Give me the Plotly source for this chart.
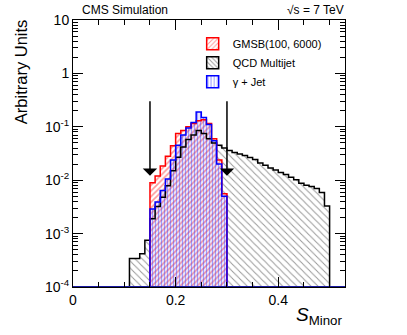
import numpy as np
import plotly.graph_objects as go

# --- Data (bin contents, bin width 0.01) ---
bin_width = 0.01
x_max = 0.53

qcd_start = 0.11
qcd = [3.4e-4, 3.4e-4, 4.2e-4, 7.5e-4,
       1.9e-3, 3.2e-3, 4.8e-3, 7.9e-3, 1.5e-2,
       2.7e-2, 4.2e-2, 5.8e-2, 7.0e-2, 8.5e-2,
       7.5e-2, 6.0e-2, 5.0e-2, 4.5e-2, 4.0e-2,
       3.6e-2, 3.3e-2, 3.1e-2, 2.9e-2, 2.65e-2, 2.45e-2, 2.1e-2, 1.9e-2, 1.7e-2, 1.55e-2,
       1.4e-2, 1.28e-2, 1.14e-2, 1.02e-2, 8.8e-3, 8.0e-3, 7.6e-3, 7.0e-3, 5.9e-3, 3.3e-3]

sig_start = 0.15
gmsb = [9.0e-3, 1.2e-2, 1.85e-2, 2.8e-2, 4.4e-2, 7.5e-2, 8.5e-2, 1.0e-1,
        1.15e-1, 1.3e-1, 1.35e-1, 1.15e-1, 6.0e-2, 2.4e-2, 5.6e-3]
gjet = [2.9e-3, 3.9e-3, 6.4e-3, 1.05e-2, 2.4e-2, 4.5e-2, 7.0e-2, 9.5e-2,
        1.2e-1, 1.9e-1, 1.5e-1, 1.1e-1, 5.5e-2, 2.0e-2, 5.0e-3]

cuts = [0.15, 0.30]

y_min, y_max = 1e-4, 10.0
FONT = "Liberation Sans, Arial, sans-serif"


def centers(start, vals):
    return start + bin_width * (np.arange(len(vals)) + 0.5)


def step_outline(start, vals):
    edges = start + bin_width * np.arange(len(vals) + 1)
    xs = [edges[0]] + list(edges) + [edges[-1]]
    ys = [y_min] + list(vals) + [vals[-1], y_min]
    return xs, ys


fig = go.Figure()

# --- filled histograms ---
fig.add_trace(go.Bar(x=centers(qcd_start, qcd), y=qcd, width=bin_width, showlegend=False,
                     marker=dict(color="white", line=dict(width=0),
                                 pattern=dict(shape="\\", fgcolor="#333333", size=5, solidity=0.2))))
fig.add_trace(go.Bar(x=centers(sig_start, gmsb), y=gmsb, width=bin_width, showlegend=False,
                     marker=dict(color="white", line=dict(width=0),
                                 pattern=dict(shape="/", fgcolor="#ff3030", size=4, solidity=0.4))))
fig.add_trace(go.Bar(x=centers(sig_start, gjet), y=gjet, width=bin_width, showlegend=False,
                     marker=dict(color="rgba(0,0,0,0)", line=dict(width=0),
                                 pattern=dict(shape="|", fgcolor="#4040ff", size=3, solidity=0.5))))

# --- outlines ---
for start, vals, col in [(qcd_start, qcd, "black"), (sig_start, gmsb, "red"), (sig_start, gjet, "blue")]:
    xs, ys = step_outline(start, vals)
    fig.add_trace(go.Scatter(x=xs, y=ys, mode="lines", line=dict(color=col, width=1.5, shape="hv"),
                             showlegend=False, hoverinfo="skip"))

# baseline along the bottom
fig.add_trace(go.Scatter(x=[0, x_max], y=[y_min, y_min], mode="lines", cliponaxis=False,
                         line=dict(color="#1a1aa0", width=2), showlegend=False, hoverinfo="skip"))

# --- legend entries ---
for name, col, shape, fg in [("GMSB(100, 6000)", "red", "/", "#ff3030"),
                             ("QCD Multijet", "black", "\\", "#333333"),
                             ("\u03b3 + Jet", "blue", "|", "#3030ff")]:
    fig.add_trace(go.Bar(x=[None], y=[None], name=name,
                         marker=dict(color="white", line=dict(color=col, width=1.5),
                                     pattern=dict(shape=shape, fgcolor=fg, size=4, solidity=0.3))))

# --- cut arrows ---
for c in cuts:
    fig.add_annotation(x=c, y=np.log10(0.0121), ax=c, ay=np.log10(0.32), xref="x", yref="y",
                       axref="x", ayref="y", text="", showarrow=True, arrowhead=1,
                       arrowsize=1.6, arrowwidth=1.5, arrowcolor="black")

# --- texts ---
fig.add_annotation(x=0.026, y=1.005, xref="paper", yref="paper", text="CMS Simulation",
                   showarrow=False, xanchor="left", yanchor="bottom", font=dict(size=12))
fig.add_annotation(x=1.005, y=1.005, xref="paper", yref="paper", text="\u221as = 7 TeV",
                   showarrow=False, xanchor="right", yanchor="bottom", font=dict(size=12))
fig.add_annotation(x=1.0, y=-0.108, xref="paper", yref="paper",
                   text="<i>S</i><sub>Minor</sub>", showarrow=False, xanchor="right",
                   yanchor="middle", font=dict(size=19))
fig.add_annotation(x=-0.19, y=1.01, xref="paper", yref="paper", text="Arbitrary Units",
                   textangle=-90, showarrow=False, xanchor="center", yanchor="top",
                   font=dict(size=16.5))

ytickvals = [1e-4, 1e-3, 1e-2, 1e-1, 1, 10]
yticktext = ["10<sup>-4</sup>", "10<sup>-3</sup>", "10<sup>-2</sup>", "10<sup>-1</sup>", "1", "10"]

fig.update_layout(
    width=407, height=335,
    margin=dict(l=73, r=62, t=18, b=48),
    paper_bgcolor="white", plot_bgcolor="white",
    barmode="overlay", bargap=0,
    font=dict(family=FONT, size=14, color="black"),
    xaxis=dict(range=[0, x_max], tickvals=[0, 0.2, 0.4], ticktext=["0", "0.2", "0.4"],
               ticks="inside", ticklen=10, tickcolor="black", showgrid=False, zeroline=False,
               showline=True, linecolor="black", linewidth=1, mirror="allticks",
               minor=dict(dtick=0.05, tick0=0, ticks="inside", ticklen=5, tickcolor="black")),
    yaxis=dict(type="log", range=[-4, 1], tickvals=ytickvals, ticktext=yticktext,
               ticks="inside", ticklen=10, tickcolor="black", showgrid=False, zeroline=False,
               showline=True, linecolor="black", linewidth=1, mirror="allticks",
               minor=dict(dtick="D1", ticks="inside", ticklen=5, tickcolor="black")),
    legend=dict(x=0.44, y=0.965, xanchor="left", yanchor="top", bgcolor="rgba(0,0,0,0)",
                font=dict(size=11), tracegroupgap=2, itemwidth=30),
)

fig.write_html("out.html", config={"displayModeBar": False},
               post_script="document.body.style.margin='0';")
